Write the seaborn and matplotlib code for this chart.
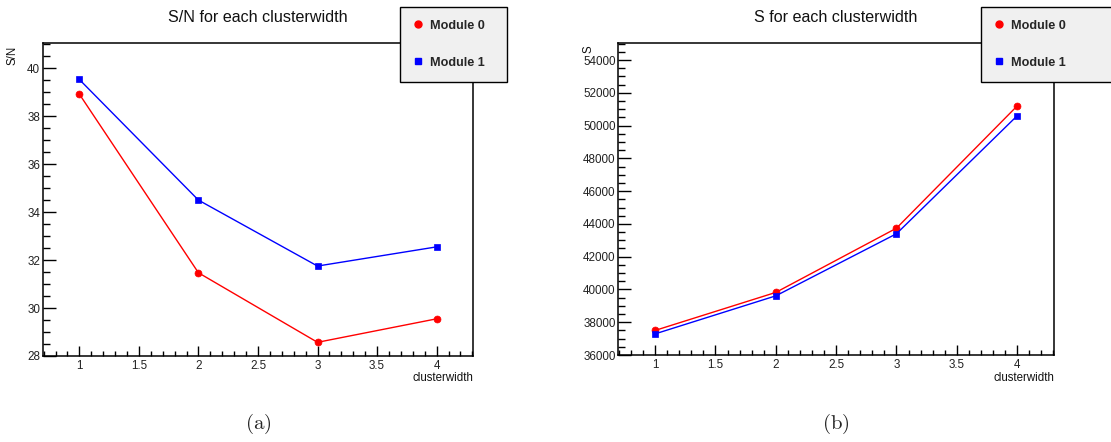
import matplotlib
matplotlib.use("Agg")
import matplotlib.pyplot as plt
from matplotlib.lines import Line2D
from matplotlib.ticker import MultipleLocator, FuncFormatter
import pandas as pd
import seaborn as sns

# Measurements per cluster width for the two detector modules
clusterwidth = [1, 2, 3, 4]
sn_module0 = [38.92, 31.47, 28.57, 29.55]
sn_module1 = [39.53, 34.50, 31.75, 32.55]
s_module0 = [37500, 39820, 43740, 51200]
s_module1 = [37290, 39610, 43400, 50600]
modules = ["Module 0", "Module 1"]

sns.set_style("white")
plt.rcParams["font.family"] = ["Liberation Sans", "DejaVu Sans"]
plt.rcParams["mathtext.fontset"] = "cm"

palette = {"Module 0": "#ff0000", "Module 1": "#0000ff"}
marker_map = {"Module 0": "o", "Module 1": "s"}
marker_size = {"Module 0": 5.0, "Module 1": 4.6}


def long_table(v0, v1):
    return pd.DataFrame({
        "clusterwidth": clusterwidth * 2,
        "value": v0 + v1,
        "module": [modules[0]] * len(v0) + [modules[1]] * len(v1),
    })


fig = plt.figure(figsize=(11.11, 4.42), dpi=100)
ax_sn = fig.add_axes([0.0387, 0.1946, 0.3870, 0.7081])
ax_s = fig.add_axes([0.5565, 0.1968, 0.3922, 0.7052])

panels = [
    (ax_sn, long_table(sn_module0, sn_module1), "S/N for each clusterwidth",
     (28, 41.05), 2, 0.5, "S/N", 13, 46, "(a)"),
    (ax_s, long_table(s_module0, s_module1), "S for each clusterwidth",
     (36000, 55020), 2000, 500, "S", 588, 45, "(b)"),
]

for ax, df, title, ylim, ymaj, ymin, ylab, ylx, yly, caption in panels:
    for m in modules:
        sub = df[df["module"] == m]
        sns.lineplot(data=sub, x="clusterwidth", y="value", ax=ax,
                     color=palette[m], marker=marker_map[m],
                     markersize=marker_size[m], markeredgecolor=palette[m],
                     markeredgewidth=0.5, linewidth=1.0, legend=False)
    ax.set_xlim(0.695, 4.305)
    ax.set_ylim(*ylim)
    ax.xaxis.set_major_locator(MultipleLocator(0.5))
    ax.xaxis.set_minor_locator(MultipleLocator(0.1))
    ax.yaxis.set_major_locator(MultipleLocator(ymaj))
    ax.yaxis.set_minor_locator(MultipleLocator(ymin))
    fmt = FuncFormatter(lambda v, p: "%g" % v)
    ax.xaxis.set_major_formatter(fmt)
    ax.yaxis.set_major_formatter(fmt)
    ax.tick_params(axis="both", which="both", direction="in", top=False,
                   right=False, bottom=True, left=True, color="black",
                   labelsize=8.4, labelcolor="#222222")
    ax.tick_params(axis="y", which="major", length=9.1, width=1.0, pad=2)
    ax.tick_params(axis="y", which="minor", length=4.8, width=1.0)
    ax.tick_params(axis="x", which="major", length=7.0, width=1.0, pad=3)
    ax.tick_params(axis="x", which="minor", length=3.6, width=1.0)
    for sp in ax.spines.values():
        sp.set_visible(True)
        sp.set_color("black")
        sp.set_linewidth(1.1)
    ax.set_xlabel("")
    ax.set_ylabel("")
    ax.grid(False)

    # panel title, axis titles and caption
    bb = ax.get_position()
    cx = (bb.x0 + bb.x1) / 2
    fig.text(cx, 1 - 18 / 442, title, ha="center", va="center",
             fontsize=11.6, color="#111111")
    fig.text(bb.x1, 1 - 378 / 442, "clusterwidth", ha="right",
             va="center", fontsize=8.3, color="#111111")
    fig.text(ylx / 1111, 1 - yly / 442, ylab, rotation=90, ha="center",
             va="top", fontsize=8.3, color="#111111")
    fig.text(cx, 1 - 424 / 442, r"$\mathrm{%s}$" % caption, ha="center",
             va="center", fontsize=15)

# legend boxes in the upper right of each panel
handles = [Line2D([], [], ls="none", marker=marker_map[m], color=palette[m],
                  markersize=marker_size[m]) for m in modules]
for x0, x1 in [(400, 507), (981, 1120)]:
    leg = fig.legend(handles, modules, loc="upper left",
                     bbox_to_anchor=(x0 / 1111, 1 - 7 / 442,
                                     (x1 - x0) / 1111, 0.0),
                     mode="expand", borderaxespad=0, frameon=True,
                     fancybox=False, facecolor="#f0f0f0",
                     edgecolor="black", framealpha=1, handlelength=0.8,
                     handletextpad=0.6, borderpad=1.0, labelspacing=2.0,
                     prop={"weight": "bold", "size": 9.1})
    leg.get_frame().set_linewidth(1.0)

fig.savefig("out.png", dpi=100)
